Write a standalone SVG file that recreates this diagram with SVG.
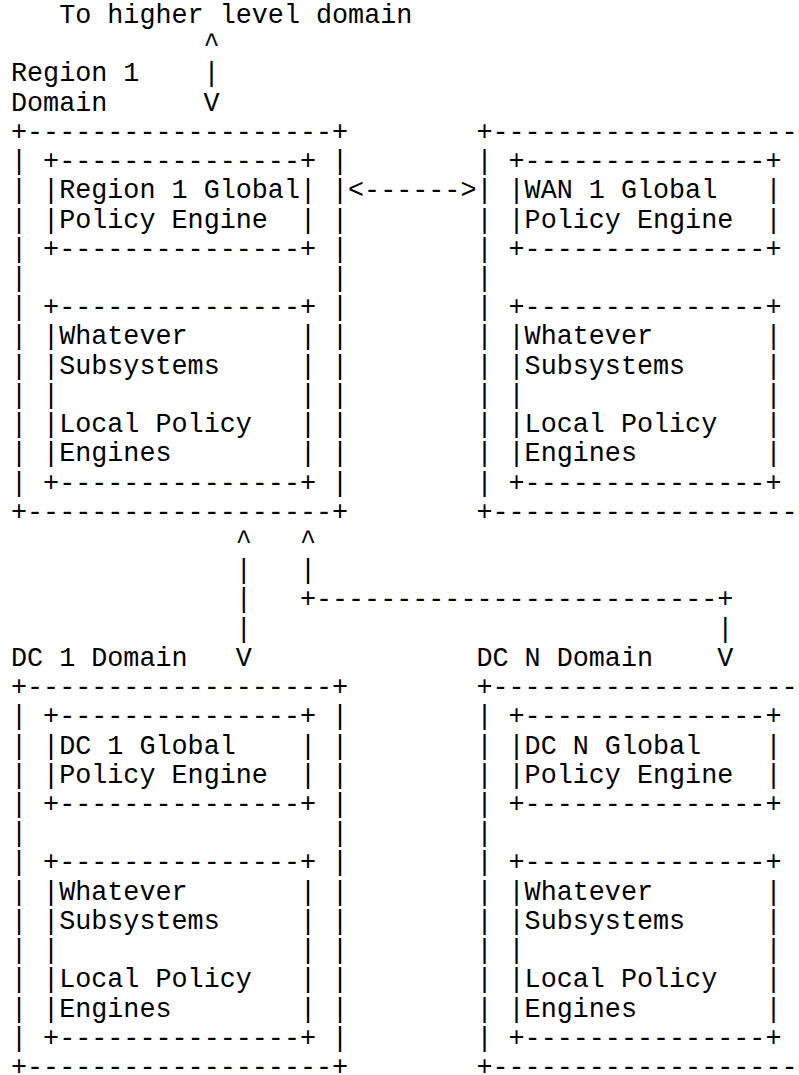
<svg xmlns="http://www.w3.org/2000/svg" width="799" height="1075" viewBox="0 0 799 1075" xml:space="preserve">
  <style>
    text { font-family: "Liberation Mono", "Courier New", monospace; font-size: 26.75px; fill: #000; white-space: pre; }
  </style>
  <rect width="799" height="1075" fill="#fff"/>

  <!-- Character grid: column c at x = 11 + 16.05*c, row n baseline at y = 23 + 29.22*n -->

  <g id="region1-domain">
    <text>
      <tspan x="11" y="81.4">Region 1</tspan>
      <tspan x="11" y="110.7">Domain</tspan>
      <tspan x="11" y="139.9">+-------------------+</tspan>
      <tspan x="11" y="169.1">| +---------------+ |</tspan>
      <tspan x="11" y="198.3">| |Region 1 Global| |</tspan>
      <tspan x="11" y="227.5">| |Policy Engine  | |</tspan>
      <tspan x="11" y="256.8">| +---------------+ |</tspan>
      <tspan x="11" y="286.0">|                   |</tspan>
      <tspan x="11" y="315.2">| +---------------+ |</tspan>
      <tspan x="11" y="344.4">| |Whatever       | |</tspan>
      <tspan x="11" y="373.6">| |Subsystems     | |</tspan>
      <tspan x="11" y="402.9">| |               | |</tspan>
      <tspan x="11" y="432.1">| |Local Policy   | |</tspan>
      <tspan x="11" y="461.3">| |Engines        | |</tspan>
      <tspan x="11" y="490.5">| +---------------+ |</tspan>
      <tspan x="11" y="519.7">+-------------------+</tspan>
    </text>
  </g>

  <g id="wan1-domain">
    <text>
      <tspan x="476.45" y="139.9">+-------------------+</tspan>
      <tspan x="476.45" y="169.1">| +---------------+ |</tspan>
      <tspan x="476.45" y="198.3">| |WAN 1 Global   | |</tspan>
      <tspan x="476.45" y="227.5">| |Policy Engine  | |</tspan>
      <tspan x="476.45" y="256.8">| +---------------+ |</tspan>
      <tspan x="476.45" y="286.0">|                   |</tspan>
      <tspan x="476.45" y="315.2">| +---------------+ |</tspan>
      <tspan x="476.45" y="344.4">| |Whatever       | |</tspan>
      <tspan x="476.45" y="373.6">| |Subsystems     | |</tspan>
      <tspan x="476.45" y="402.9">| |               | |</tspan>
      <tspan x="476.45" y="432.1">| |Local Policy   | |</tspan>
      <tspan x="476.45" y="461.3">| |Engines        | |</tspan>
      <tspan x="476.45" y="490.5">| +---------------+ |</tspan>
      <tspan x="476.45" y="519.7">+-------------------+</tspan>
    </text>
  </g>

  <g id="dc1-domain">
    <text>
      <tspan x="11" y="665.8">DC 1 Domain</tspan>
      <tspan x="11" y="695.1">+-------------------+</tspan>
      <tspan x="11" y="724.3">| +---------------+ |</tspan>
      <tspan x="11" y="753.5">| |DC 1 Global    | |</tspan>
      <tspan x="11" y="782.7">| |Policy Engine  | |</tspan>
      <tspan x="11" y="811.9">| +---------------+ |</tspan>
      <tspan x="11" y="841.2">|                   |</tspan>
      <tspan x="11" y="870.4">| +---------------+ |</tspan>
      <tspan x="11" y="899.6">| |Whatever       | |</tspan>
      <tspan x="11" y="928.8">| |Subsystems     | |</tspan>
      <tspan x="11" y="958.0">| |               | |</tspan>
      <tspan x="11" y="987.3">| |Local Policy   | |</tspan>
      <tspan x="11" y="1016.5">| |Engines        | |</tspan>
      <tspan x="11" y="1045.7">| +---------------+ |</tspan>
      <tspan x="11" y="1074.9">+-------------------+</tspan>
    </text>
  </g>

  <g id="dcn-domain">
    <text>
      <tspan x="476.45" y="665.8">DC N Domain</tspan>
      <tspan x="476.45" y="695.1">+-------------------+</tspan>
      <tspan x="476.45" y="724.3">| +---------------+ |</tspan>
      <tspan x="476.45" y="753.5">| |DC N Global    | |</tspan>
      <tspan x="476.45" y="782.7">| |Policy Engine  | |</tspan>
      <tspan x="476.45" y="811.9">| +---------------+ |</tspan>
      <tspan x="476.45" y="841.2">|                   |</tspan>
      <tspan x="476.45" y="870.4">| +---------------+ |</tspan>
      <tspan x="476.45" y="899.6">| |Whatever       | |</tspan>
      <tspan x="476.45" y="928.8">| |Subsystems     | |</tspan>
      <tspan x="476.45" y="958.0">| |               | |</tspan>
      <tspan x="476.45" y="987.3">| |Local Policy   | |</tspan>
      <tspan x="476.45" y="1016.5">| |Engines        | |</tspan>
      <tspan x="476.45" y="1045.7">| +---------------+ |</tspan>
      <tspan x="476.45" y="1074.9">+-------------------+</tspan>
    </text>
  </g>

  <g id="connectors">
    <!-- uplink to the parent domain -->
    <text>
      <tspan x="59.15" y="23.0">To higher level domain</tspan>
      <tspan x="203.6" y="52.2">^</tspan>
      <tspan x="203.6" y="81.4">|</tspan>
      <tspan x="203.6" y="110.7">V</tspan>
    </text>
    <!-- peer link Region 1 <-> WAN 1 -->
    <text><tspan x="348.05" y="198.3">&lt;------&gt;</tspan></text>
    <!-- Region 1 down to DC 1 and DC N -->
    <text>
      <tspan x="235.7" y="549.0">^   ^</tspan>
      <tspan x="235.7" y="578.2">|   |</tspan>
      <tspan x="235.7" y="607.4">|   +-------------------------+</tspan>
      <tspan x="235.7" y="636.6">|                             |</tspan>
      <tspan x="235.7" y="665.8">V</tspan>
      <tspan x="717.2" y="665.8">V</tspan>
    </text>
  </g>
</svg>
